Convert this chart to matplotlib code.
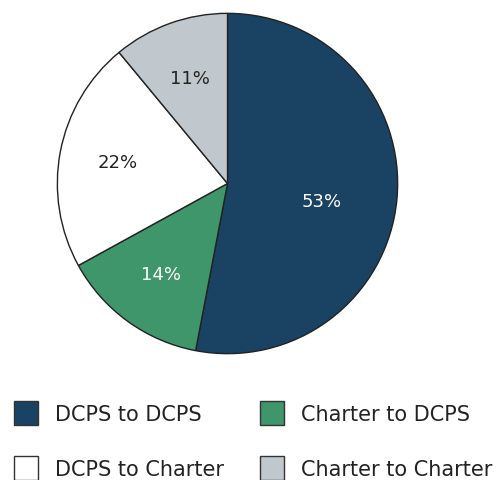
import matplotlib
matplotlib.use("Agg")
import matplotlib.pyplot as plt
from matplotlib.patches import Patch

categories = ["DCPS to DCPS", "Charter to DCPS", "DCPS to Charter", "Charter to Charter"]
values = [53, 14, 22, 11]
colors = ["#1a4263", "#3f966a", "#ffffff", "#c0c8cd"]
text_colors = ["white", "white", "#222222", "#222222"]

plt.rcParams['font.family'] = ['DejaVu Sans']

W, H = 504, 481
fig = plt.figure(figsize=(W / 100, H / 100), dpi=100)
cx, cy, r = 227.5, 184.5, 171
ax = fig.add_axes([(cx - r) / W, 1 - (cy + r) / H, 2 * r / W, 2 * r / H])

wedges, texts, autotexts = ax.pie(
    values, colors=colors, startangle=90, counterclock=False,
    autopct=lambda p: f"{p:.0f}%", pctdistance=0.66,
    wedgeprops=dict(edgecolor="#222222", linewidth=1.0),
    textprops=dict(fontsize=13))
for t, c in zip(autotexts, text_colors):
    t.set_color(c)
# the big slice label sits a bit lower/closer in the reference
autotexts[0].set_position((0.556, -0.103))
ax.set_xlim(-1.005, 1.005)
ax.set_ylim(-1.005, 1.005)
ax.set_aspect('equal')
ax.axis('off')

order = [0, 2, 1, 3]
handles = [Patch(facecolor=colors[i], edgecolor="#333333", linewidth=1.0) for i in order]
labels = [categories[i] for i in order]
fig.legend(handles, labels, ncol=2, loc="upper left",
           bbox_to_anchor=(14 / W, 1 - 402 / H), frameon=False,
           borderpad=0, borderaxespad=0, fontsize=15,
           handlelength=1.15, handleheight=1.4, handletextpad=0.8,
           labelspacing=1.5, columnspacing=1.75, labelcolor="#222222")

fig.savefig("out.png", dpi=100, facecolor="white")
